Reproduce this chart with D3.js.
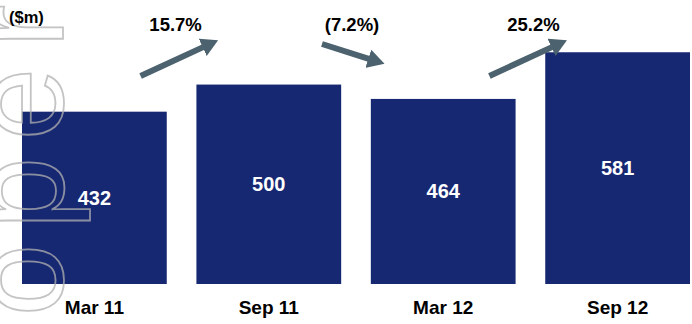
<!DOCTYPE html>
<html>
<head>
<meta charset="utf-8">
<script src="https://cdn.jsdelivr.net/npm/d3@7"></script>
<style>
  html, body { margin: 0; padding: 0; background: #fff; }
  svg { display: block; }
  text { font-family: "Liberation Sans", Arial, sans-serif; }
</style>
</head>
<body>
<svg id="chart" width="692" height="324"></svg>
<script>
const categories = ["Mar 11", "Sep 11", "Mar 12", "Sep 12"];
const values = [432, 500, 464, 581];
const changeLabels = ["15.7%", "(7.2%)", "25.2%"];
const changeDirections = [1, -1, 1];
const unitLabel = "($m)";
const watermarkText = "Cooper";

const svg = d3.select("#chart");

const x = d3.scaleBand().domain(categories).range([22, 690]).paddingInner(0.17).paddingOuter(0);
const y = d3.scaleLinear().domain([0, 712]).range([284, 0]);

const barColor = "#172872";
const arrowColor = "#4c626e";

// bars
svg.append("g").selectAll("rect").data(values).join("rect")
  .attr("x", (d, i) => x(categories[i]))
  .attr("y", d => y(d))
  .attr("width", x.bandwidth())
  .attr("height", d => y(0) - y(d))
  .attr("fill", barColor);

// watermark: outlined word running bottom-to-top along the left edge
const wmCenters = [455, 368, 280, 193, 104, 26]; // screen-y centre of each glyph (decoration layout)
svg.append("text")
  .attr("transform", "rotate(-90)")
  .attr("x", wmCenters.map(v => -v).join(" "))
  .attr("y", 63)
  .attr("text-anchor", "middle")
  .attr("font-family", "'DejaVu Sans', sans-serif")
  .attr("font-size", 130)
  .attr("fill", "none")
  .attr("stroke", "#b0b0b0")
  .attr("stroke-opacity", 0.75)
  .attr("stroke-width", 1.8)
  .text(watermarkText);

// value labels
svg.append("g").selectAll("text").data(values).join("text")
  .attr("x", (d, i) => x(categories[i]) + x.bandwidth() / 2)
  .attr("y", d => (y(d) + y(0)) / 2 + 7)
  .attr("text-anchor", "middle")
  .attr("font-weight", "bold")
  .attr("font-size", 20)
  .attr("fill", "#fff")
  .text(d => d);

// category axis labels
const xAxis = d3.axisBottom(x).tickSize(0).tickPadding(0);
const gx = svg.append("g").attr("transform", "translate(0,300)").call(xAxis);
gx.select(".domain").remove();
gx.selectAll("text")
  .attr("font-family", "'Liberation Sans', Arial, sans-serif")
  .attr("font-weight", "bold")
  .attr("font-size", 19)
  .attr("fill", "#000");

// unit label
svg.append("text").attr("x", 9).attr("y", 23)
  .attr("font-weight", "bold").attr("font-size", 16.5).attr("fill", "#000")
  .text(unitLabel);

// arrows between bars
const headLen = 17, headW = 19;
const defs = svg.append("defs");
defs.append("marker").attr("id", "ah")
  .attr("viewBox", `0 0 ${headLen} ${headW}`).attr("refX", 0.5).attr("refY", headW / 2)
  .attr("markerWidth", headLen).attr("markerHeight", headW)
  .attr("markerUnits", "userSpaceOnUse")
  .attr("orient", "auto")
  .append("path").attr("d", `M0,0 L${headLen},${headW / 2} L0,${headW} Z`).attr("fill", arrowColor);

changeLabels.forEach((lab, i) => {
  const gapL = x(categories[i]) + x.bandwidth();
  const gapR = x(categories[i + 1]);
  const cx = (gapL + gapR) / 2;
  const dir = changeDirections[i];
  let tx0, ty0, tx1, ty1;
  if (dir > 0) { tx0 = cx - 41; ty0 = 76; tx1 = cx + 37; ty1 = 40; }
  else { tx0 = cx - 34; ty0 = 44; tx1 = cx + 29; ty1 = 64; }
  const len = Math.hypot(tx1 - tx0, ty1 - ty0);
  const ux = (tx1 - tx0) / len, uy = (ty1 - ty0) / len;
  svg.append("line")
    .attr("x1", tx0).attr("y1", ty0)
    .attr("x2", tx1 - ux * headLen).attr("y2", ty1 - uy * headLen)
    .attr("stroke", arrowColor).attr("stroke-width", 6)
    .attr("marker-end", "url(#ah)");
  svg.append("text")
    .attr("x", cx + (i === 0 ? -6 : i === 1 ? -4 : 3))
    .attr("y", 31)
    .attr("text-anchor", "middle")
    .attr("font-weight", "bold").attr("font-size", 18.5).attr("fill", "#000")
    .text(lab);
});
</script>
</body>
</html>
